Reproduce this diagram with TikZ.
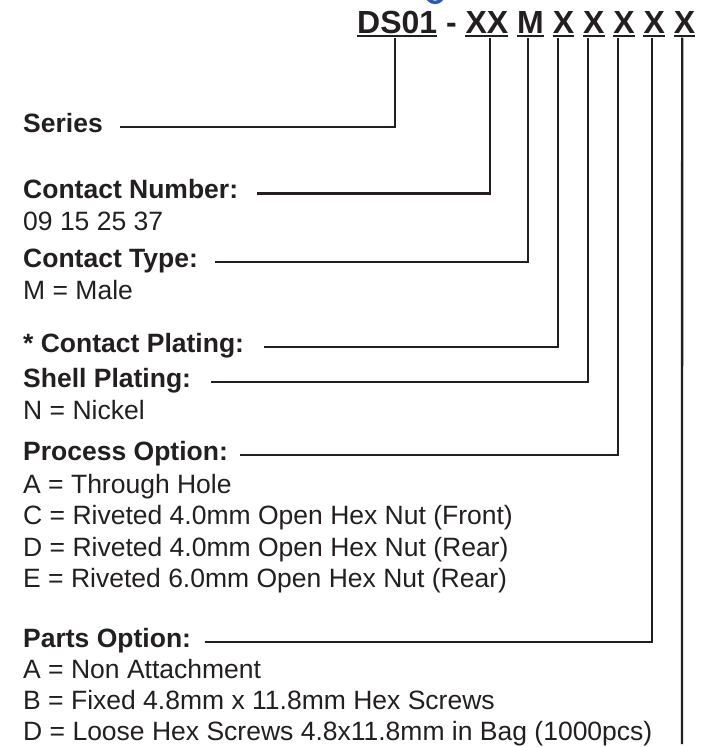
\documentclass[tikz,border=0pt]{standalone}
\usepackage{fontspec}
\setmainfont{Liberation Sans}
\usetikzlibrary{calc}
\definecolor{ink}{HTML}{231F20}
\definecolor{logoblue}{HTML}{2A5CAA}
\begin{document}
\begin{tikzpicture}[x=1pt,y=-1pt,
  lbl/.style={anchor=base west, inner sep=0pt, font=\fontsize{26.5}{30}\selectfont\bfseries, text=ink},
  item/.style={anchor=base west, inner sep=0pt, font=\fontsize{26.5}{30}\selectfont, text=ink},
  tok/.style={anchor=base west, inner sep=0pt, font=\fontsize{32}{36}\selectfont\bfseries, text=ink},
  conn/.style={draw=ink, line width=2.3pt},
  uline/.style={draw=ink, line width=2.5pt}]
\useasboundingbox (0,0) rectangle (704,747);
\clip (0,0) rectangle (704,747);
% partial blue logo at the top edge
\draw[logoblue, line width=3.4pt] (427,-4) .. controls (429,4.5) and (441,4.5) .. (443,-4);
% header tokens
\node[tok] (t0) at (357,33) {DS01};
\node[tok] (dash) at (445.9,33) {-};
\node[tok] (t1) at (465.4,33) {XX};
\node[tok] (t2) at (517,33) {M};
\node[tok] (t3) at (552.6,33) {X};
\node[tok] (t4) at (582.8,33) {X};
\node[tok] (t5) at (613.1,33) {X};
\node[tok] (t6) at (643.3,33) {X};
\node[tok] (t7) at (673.6,33) {X};
\foreach \t in {t0,t1,t2,t3,t4,t5,t6,t7}
  \draw[uline] ([yshift=-3pt]\t.base west) -- ([yshift=-3pt]\t.base east);
% labels
\node[lbl] (series) at (23,132) {Series};
\node[lbl] (cnum) at (23,198.5) {Contact Number:};
\node[item] (cnumv) at (23,230.5) {09 15 25 37};
\node[lbl] (ctype) at (23,267) {Contact Type:};
\node[item] (ctypev) at (23,299) {M = Male};
\node[lbl] (cplat) at (23,352) {* Contact Plating:};
\node[lbl] (splat) at (23,387) {Shell Plating:};
\node[item] (splatv) at (23,419) {N = Nickel};
\node[lbl] (proc) at (23,460) {Process Option:};
\node[item] (procA) at (23,493) {A = Through Hole};
\node[item] (procC) at (23,524.5) {C = Riveted 4.0mm Open Hex Nut (Front)};
\node[item] (procD) at (23,556) {D = Riveted 4.0mm Open Hex Nut (Rear)};
\node[item] (procE) at (23,587.5) {E = Riveted 6.0mm Open Hex Nut (Rear)};
\node[lbl] (parts) at (23,647) {Parts Option:};
\node[item] (partsA) at (23,678) {A = Non Attachment};
\node[item] (partsB) at (23,709) {B = Fixed 4.8mm x 11.8mm Hex Screws};
\node[item] (partsD) at (23,740) {D = Loose Hex Screws 4.8x11.8mm in Bag (1000pcs)};
% connectors
\draw[conn] ($(series.base east)+(17,-5)$) -| ([xshift=-2pt,yshift=-4.5pt]t0.base);
\draw[conn] ($(cnum.base east)+(19,-5)$) -| ([xshift=3.3pt,yshift=-4.5pt]t1.base);
\draw[conn] ($(ctype.base east)+(17,-5)$) -| ([xshift=-2.3pt,yshift=-4.5pt]t2.base);
\draw[conn] ($(cplat.base east)+(20,-5)$) -| ([xshift=-5.2pt,yshift=-4.5pt]t3.base);
\draw[conn] ($(splat.base east)+(20,-5)$) -| ([xshift=-5.5pt,yshift=-4.5pt]t4.base);
\draw[conn] ($(proc.base east)+(12,-5)$) -| ([xshift=-5.8pt,yshift=-4.5pt]t5.base);
\draw[conn] ($(parts.base east)+(14,-5)$) -| ([xshift=-2pt,yshift=-4.5pt]t6.base);
\coordinate (tail) at (682,744);
\draw[conn] ([xshift=-2.3pt,yshift=-4.5pt]t7.base) -- (tail);
\end{tikzpicture}
\end{document}
